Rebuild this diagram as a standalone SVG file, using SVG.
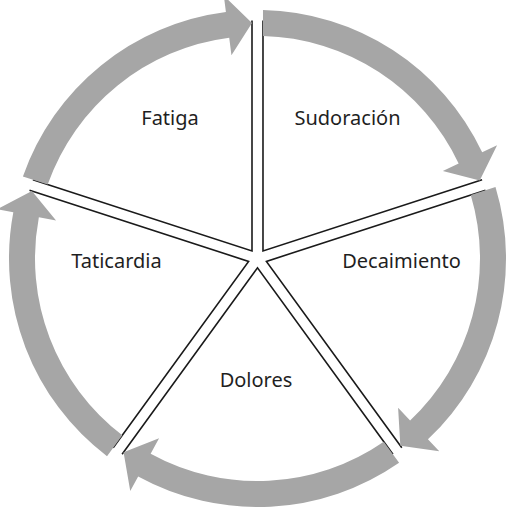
<svg xmlns="http://www.w3.org/2000/svg" width="525" height="517" viewBox="0 0 525 517">
<style>
.sector{fill:#ffffff;stroke:#1a1a1a;stroke-width:1.6;stroke-linejoin:miter}
.arrow{fill:#a6a6a6}
.label{font-family:"Noto Sans","Liberation Sans",sans-serif;font-size:20px;fill:#1f1f1f;text-anchor:middle}
</style>
<defs>
<path id="sec" d="M -224.60,-78.75 L -5.5,-7.57 L -5.5,-237.94"/>
<path id="arr" d="M -234.59,-82.00 A 248.5 248.5 0 0 1 -31.58,-246.49 L -33.68,-262.85 L -5.5,-235.44 L -26.06,-203.34 L -28.28,-220.70 A 222.5 222.5 0 0 0 -209.85,-73.96 Z"/>
</defs>
<rect width="525" height="517" fill="#ffffff"/>
<g id="node-fatiga">
<use href="#sec" class="sector" transform="translate(257.5 258.5)"/>
<text class="label" x="170" y="125">Fatiga</text>
</g>
<g id="node-sudoracion">
<use href="#sec" class="sector" transform="translate(257.5 258.5) rotate(72)"/>
<text class="label" x="347.5" y="125">Sudoración</text>
</g>
<g id="node-decaimiento">
<use href="#sec" class="sector" transform="translate(257.5 258.5) rotate(144)"/>
<text class="label" x="401.5" y="268">Decaimiento</text>
</g>
<g id="node-dolores">
<use href="#sec" class="sector" transform="translate(257.5 258.5) rotate(216)"/>
<text class="label" x="256" y="387">Dolores</text>
</g>
<g id="node-taticardia">
<use href="#sec" class="sector" transform="translate(257.5 258.5) rotate(288)"/>
<text class="label" x="116.5" y="268">Taticardia</text>
</g>
<g id="connectors">
<use href="#arr" class="arrow" transform="translate(257.5 258.5)"/>
<use href="#arr" class="arrow" transform="translate(257.5 258.5) rotate(72)"/>
<use href="#arr" class="arrow" transform="translate(257.5 258.5) rotate(144)"/>
<use href="#arr" class="arrow" transform="translate(257.5 258.5) rotate(216)"/>
<use href="#arr" class="arrow" transform="translate(257.5 258.5) rotate(288)"/>
</g>
</svg>
